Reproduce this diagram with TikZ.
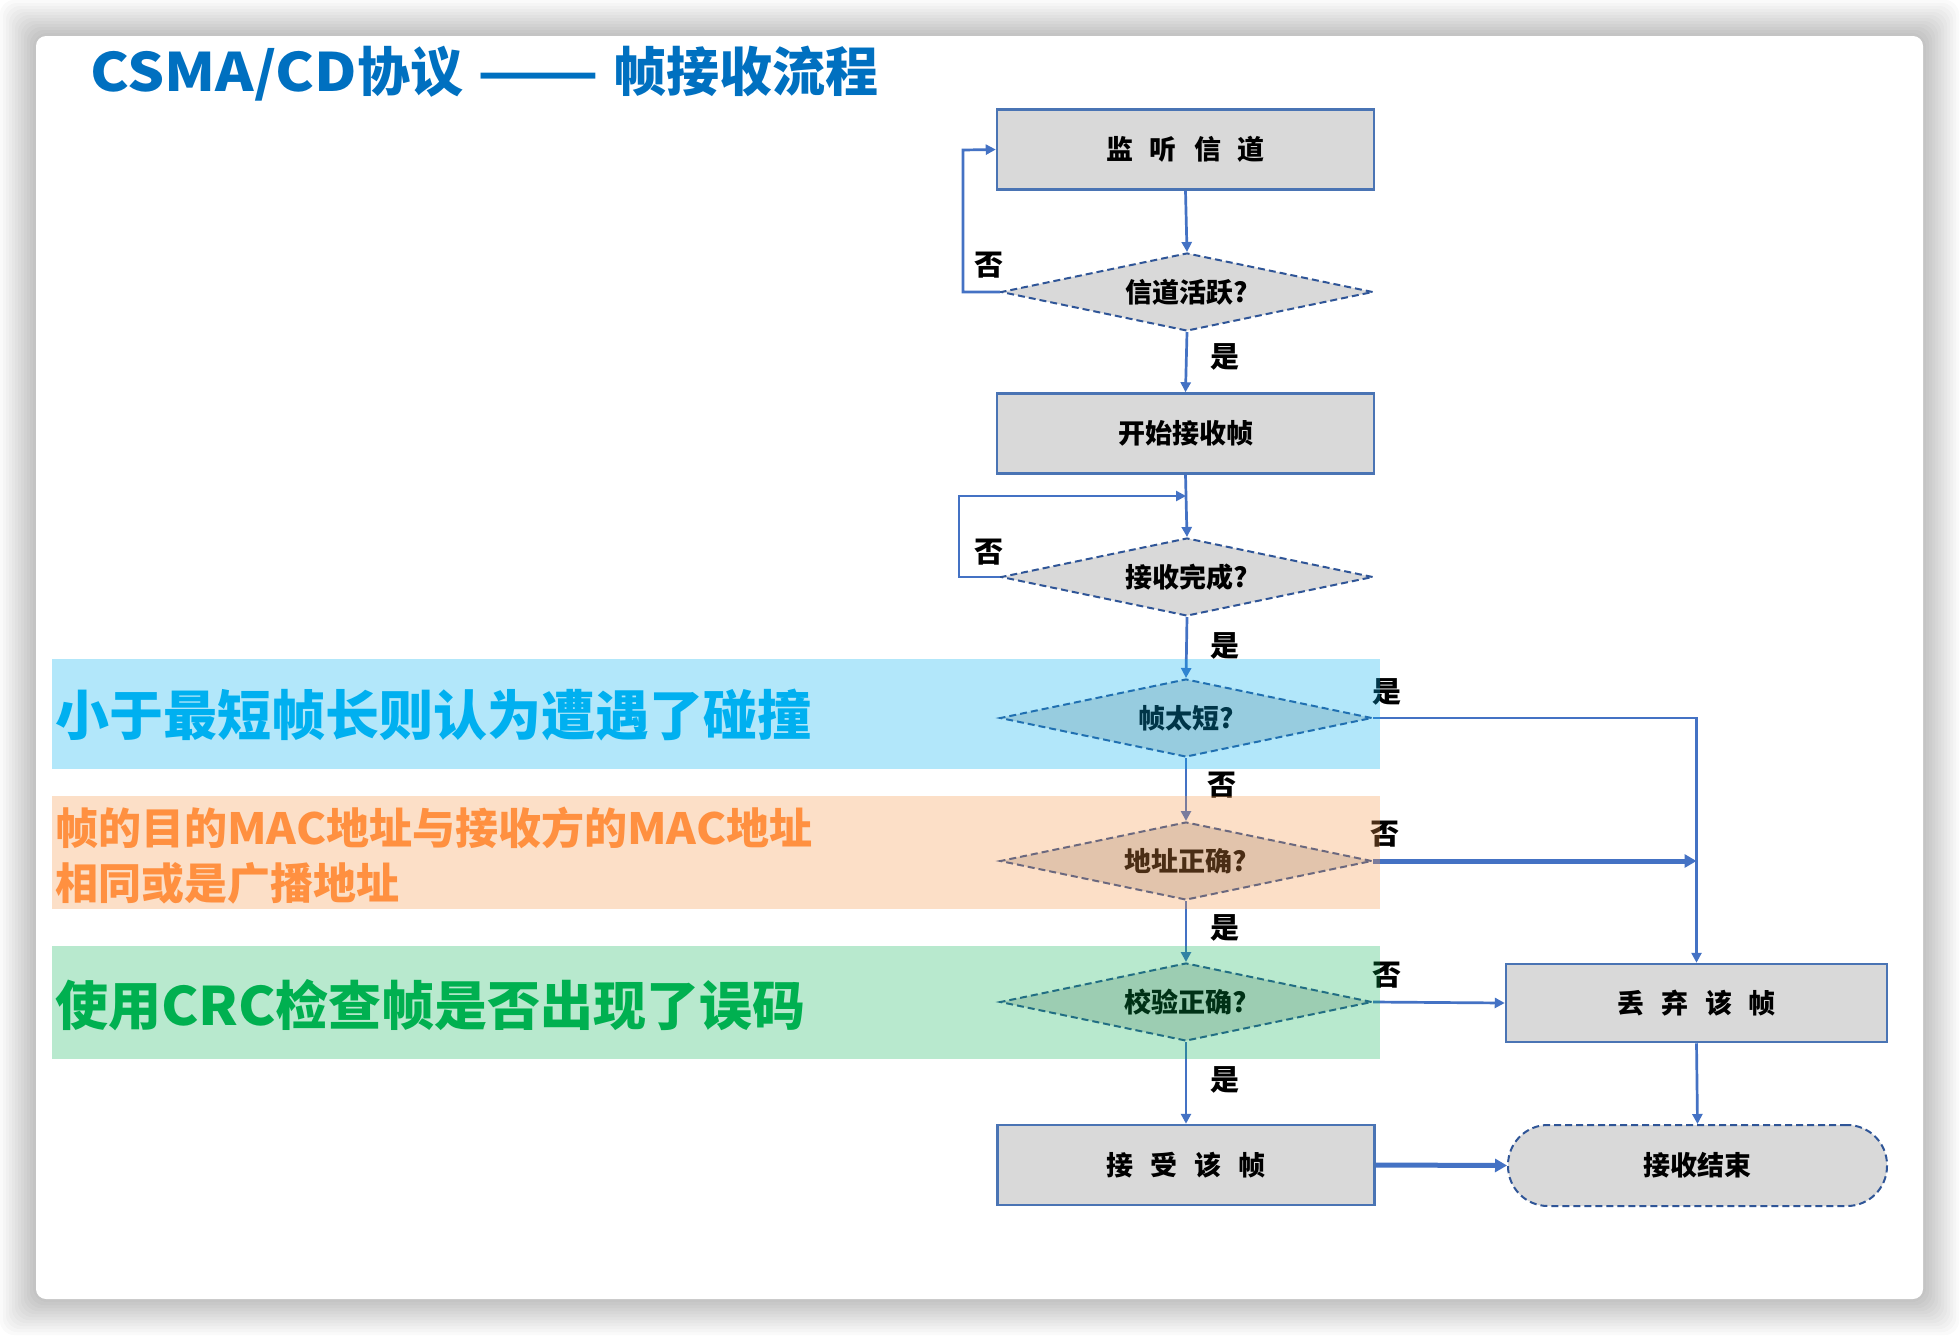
\documentclass[tikz,border=0pt]{standalone}
\usepackage{fontspec}
\setmainfont{Noto Sans CJK SC}
\usetikzlibrary{arrows.meta,shapes.geometric}
\definecolor{titleblue}{HTML}{0070C0}
\definecolor{linkblue}{HTML}{4472C4}
\definecolor{boxedge}{HTML}{4A74B4}
\definecolor{diaedge}{HTML}{2F5597}
\definecolor{boxgray}{HTML}{D9D9D9}
\definecolor{bandblue}{HTML}{00B0F0}
\definecolor{bandorange}{HTML}{F79646}
\definecolor{bandgreen}{HTML}{00B050}
\definecolor{txtorange}{HTML}{FF9040}
\tikzset{
  flowbox/.style={draw=boxedge, line width=2.5pt, fill=boxgray, minimum width=377pt, minimum height=80pt, inner sep=0pt, font=\fontsize{27}{32}\selectfont\bfseries},
  decision/.style={diamond, aspect=4.8, draw=diaedge, line width=2pt, dash pattern=on 7pt off 4pt, fill=boxgray, minimum width=372pt, minimum height=78pt, inner sep=0pt, font=\fontsize{27}{32}\selectfont\bfseries},
  terminal/.style={draw=diaedge, line width=2pt, dash pattern=on 7pt off 4pt, fill=boxgray, rounded corners=40pt, minimum width=379pt, minimum height=81pt, inner sep=0pt, font=\fontsize{27}{32}\selectfont\bfseries},
  conn/.style={draw=linkblue, line width=2.7pt, -{Triangle[length=10pt,width=10pt]}},
  thickconn/.style={draw=linkblue, line width=5pt, -{Triangle[length=12pt,width=13pt]}},
  lbl/.style={font=\fontsize{29}{32}\selectfont\bfseries, inner sep=0pt},
  band/.style={fill opacity=0.3},
  bandtext/.style={anchor=west, inner sep=0pt, font=\fontsize{54}{60}\selectfont\bfseries}
}
\begin{document}
\begin{tikzpicture}[x=1pt,y=-1pt]
\useasboundingbox (0,0) rectangle (1960,1336);
\fill[white] (0,0) rectangle (1960,1336);
% card shadow
\foreach \i in {1,...,12}{
  \fill[black, opacity=0.02, rounded corners=14pt] ({36-3*\i},{36-3*\i}) rectangle ({1923+3*\i},{1299+3*\i});
}
\fill[white, rounded corners=10pt] (36,36) rectangle (1923,1299);

% title
\node[anchor=base west, inner sep=0pt, text=titleblue, font=\fontsize{53}{60}\selectfont\bfseries] (title) at (90,91) {\scalebox{1.1}[1]{CSMA/CD}协议\hspace{14pt}\scalebox{1.34}[1]{——}\hspace{14pt}帧接收流程};

% flow nodes
\node[flowbox] (b1) at (1185.5,149.5) {监\hspace{17pt}听\hspace{17pt}信\hspace{17pt}道};
\node[decision] (d1) at (1187,292) {信道活跃?};
\node[flowbox] (b2) at (1185.5,433.5) {开始接收帧};
\node[decision] (d2) at (1187,577) {接收完成?};
\node[decision] (d3) at (1186,718) {帧太短?};
\node[decision] (d4) at (1186,861) {地址正确?};
\node[decision] (d5) at (1186,1002) {校验正确?};
\node[flowbox] (b3) at (1186,1165) {接\hspace{17pt}受\hspace{17pt}该\hspace{17pt}帧};
\node[flowbox, minimum width=381pt, minimum height=78pt] (b4) at (1696.5,1003) {丢\hspace{17pt}弃\hspace{17pt}该\hspace{17pt}帧};
\node[terminal] (t) at (1697.5,1165.5) {接收结束};

% helper coordinates
\coordinate (c1a) at (963,292);
\coordinate (c1b) at (963,150);
\coordinate (c2a) at (959,577);
\coordinate (c2b) at (959,496);
\coordinate (c2c) at (1186,496);
\coordinate (c4) at (b4.north |- d4.east);

% connectors
\draw[conn] (b1.south) -- (d1.north);
\draw[conn] (d1.west) -- (c1a) -- (c1b) -- (b1.west);
\draw[conn] (d1.south) -- (b2.north);
\draw[conn] (b2.south) -- (d2.north);
\draw[conn] (d2.west) -- (c2a) -- (c2b) -- (c2c);
\draw[conn] (d2.south) -- (d3.north);
\draw[conn] (d3.east) -| (b4.north);
\draw[conn] (d3.south) -- (d4.north);
\draw[thickconn] (d4.east) -- (c4);
\draw[conn] (d4.south) -- (d5.north);
\draw[conn] (d5.east) -- (b4.west);
\draw[conn] (d5.south) -- (b3.north);
\draw[thickconn] (b3.east) -- (t.west);
\draw[conn] (b4.south) -- (t.north);

% labels
\node[lbl] (l1) at (989,265) {否};
\node[lbl] (l2) at (1225,357) {是};
\node[lbl] (l3) at (989,552) {否};
\node[lbl] (l4) at (1225,646) {是};
\node[lbl] (l5) at (1387,692) {是};
\node[lbl] (l6) at (1222,785) {否};
\node[lbl] (l7) at (1385,834) {否};
\node[lbl] (l8) at (1225,928) {是};
\node[lbl] (l9) at (1387,975) {否};
\node[lbl] (l10) at (1225,1080) {是};

% translucent bands
\fill[bandblue, band] (52,659) rectangle (1380,769);
\fill[bandorange, band] (52,796) rectangle (1380,909);
\fill[bandgreen, band, fill opacity=0.28] (52,946) rectangle (1380,1059);

% band texts
\node[bandtext, text=bandblue] (n1) at (55,715) {小于最短帧长则认为遭遇了碰撞};
\node[bandtext, text=txtorange, align=left, font=\fontsize{43}{55}\selectfont\bfseries] (n2) at (55,856) {帧的目的\scalebox{1.05}[1]{MAC}地址与接收方的\scalebox{1.05}[1]{MAC}地址\\相同或是广播地址};
\node[bandtext, text=bandgreen, font=\fontsize{53}{60}\selectfont\bfseries] (n3) at (55,1005) {使用\scalebox{1.06}[1]{CRC}检查帧是否出现了误码};
\end{tikzpicture}
\end{document}
